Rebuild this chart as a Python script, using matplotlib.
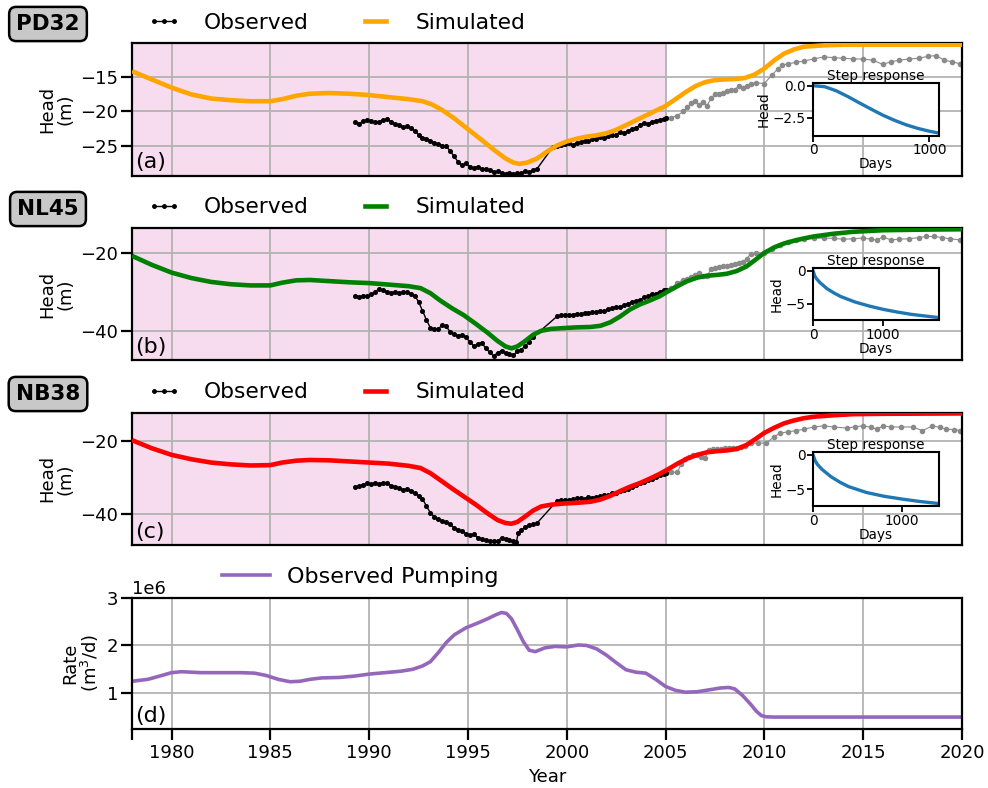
import matplotlib
matplotlib.use("Agg")
import matplotlib.pyplot as plt
from matplotlib.lines import Line2D

# ---------------- data ----------------
wells = ["PD32", "NL45", "NB38"]
panel_labels = ["(a)", "(b)", "(c)", "(d)"]
sim_colors = ["orange", "green", "red"]

# PD32
sim_a_t = [1978.0, 1979.0, 1980.0, 1981.0, 1982.0, 1983.0, 1984.0, 1985.0, 1985.6, 1986.3, 1987.0, 1988.0,
           1989.0, 1990.0, 1991.0, 1992.0, 1992.7, 1993.2, 1993.7, 1994.3, 1995.0, 1995.7, 1996.3, 1996.9,
           1997.3, 1997.6, 1998.0, 1998.5, 1999.0, 1999.5, 2000.0, 2000.5, 2001.0, 2001.5, 2002.0, 2002.5,
           2003.0, 2003.5, 2004.0, 2004.5, 2005.0, 2005.5, 2006.0, 2006.5, 2007.0, 2007.5, 2008.0, 2008.5,
           2009.0, 2009.5, 2010.0, 2010.5, 2011.0, 2011.5, 2012.0, 2013.0, 2014.0, 2016.0, 2020.0]
sim_a_v = [-14.1, -15.3, -16.5, -17.5, -18.1, -18.35, -18.5, -18.5, -18.2, -17.7, -17.4, -17.3,
           -17.4, -17.6, -17.9, -18.2, -18.5, -19.0, -19.8, -21.0, -22.6, -24.2, -25.6, -26.9,
           -27.5, -27.7, -27.5, -26.9, -25.9, -25.0, -24.4, -24.0, -23.7, -23.5, -23.2, -22.7,
           -22.0, -21.3, -20.6, -19.9, -19.2, -18.2, -17.2, -16.3, -15.7, -15.4, -15.3, -15.25,
           -15.1, -14.6, -13.7, -12.5, -11.5, -10.9, -10.5, -10.3, -10.2, -10.2, -10.2]
obs_a_t = [1989.3, 1989.5, 1989.7, 1989.9, 1990.1, 1990.3, 1990.5, 1990.7, 1990.9, 1991.1, 1991.3, 1991.5,
           1991.7, 1991.9, 1992.1, 1992.3, 1992.5, 1992.7, 1992.9, 1993.1, 1993.3, 1993.5, 1993.7, 1993.9,
           1994.1, 1994.3, 1994.5, 1994.7, 1994.9, 1995.1, 1995.3, 1995.5, 1995.7, 1995.9, 1996.1, 1996.3,
           1996.5, 1996.7, 1996.9, 1997.1, 1997.3, 1997.5, 1997.7, 1997.9, 1998.1, 1998.3, 1998.5, 1999.3,
           1999.5, 1999.7, 1999.9, 2000.1, 2000.3, 2000.5, 2000.7, 2000.9, 2001.1, 2001.3, 2001.5, 2001.7,
           2001.9, 2002.1, 2002.3, 2002.5, 2002.7, 2002.9, 2003.1, 2003.3, 2003.5, 2003.7, 2003.9, 2004.1,
           2004.3, 2004.5, 2004.7, 2004.9, 2005.0]
obs_a_v = [-21.6, -21.8, -21.4, -21.2, -21.4, -21.6, -21.5, -21.3, -21.1, -21.5, -21.8, -22.0,
           -22.3, -22.2, -22.5, -22.8, -23.4, -23.9, -24.0, -24.3, -24.6, -24.8, -25.0, -25.1,
           -25.8, -26.6, -27.4, -27.9, -27.6, -28.1, -28.3, -28.1, -28.5, -28.4, -28.6, -28.9,
           -28.8, -29.1, -29.2, -29.0, -29.2, -29.1, -29.0, -28.8, -28.9, -28.6, -28.4, -25.2,
           -25.0, -24.9, -24.8, -24.7, -24.9, -24.6, -24.5, -24.3, -24.4, -24.1, -24.0, -23.8,
           -23.9, -23.6, -23.5, -23.4, -23.0, -23.2, -22.8, -22.6, -22.4, -22.0, -21.7, -21.8,
           -21.5, -21.4, -21.2, -21.1, -21.0]
late_a_t = [2005.0, 2005.3, 2005.6, 2005.9, 2006.1, 2006.3, 2006.5, 2006.7, 2006.9, 2007.1, 2007.3, 2007.5,
            2007.7, 2007.9, 2008.1, 2008.3, 2008.5, 2008.7, 2008.9, 2009.1, 2009.3, 2009.6, 2010.0, 2010.4,
            2010.7, 2010.9, 2011.2, 2011.6, 2012.0, 2012.5, 2013.0, 2013.5, 2014.0, 2014.5, 2015.0, 2015.5,
            2016.0, 2016.4, 2016.8, 2017.3, 2017.8, 2018.3, 2018.7, 2019.1, 2019.5, 2019.9]
late_a_v = [-21.0, -20.9, -20.6, -20.0, -19.4, -18.8, -18.5, -19.0, -18.6, -19.2, -18.0, -17.5,
            -17.4, -17.3, -17.0, -16.9, -16.8, -16.3, -16.6, -16.2, -15.9, -15.8, -15.9, -14.6,
            -13.7, -13.2, -13.0, -12.8, -12.6, -12.3, -12.0, -12.1, -12.2, -12.3, -12.3, -12.5,
            -13.1, -12.7, -12.5, -12.3, -12.2, -11.9, -11.8, -12.5, -12.7, -13.0]
step_a_t = [0, 100, 200, 300, 400, 500, 600, 700, 800, 900, 1000, 1083]
step_a_v = [0.0, -0.08, -0.4, -0.85, -1.35, -1.83, -2.3, -2.7, -3.05, -3.33, -3.55, -3.7]

# NL45
sim_b_t = [1978.0, 1979.0, 1980.0, 1981.0, 1982.0, 1983.0, 1984.0, 1985.0, 1985.6, 1986.3, 1987.0, 1988.0,
           1989.0, 1990.0, 1991.0, 1992.0, 1992.6, 1993.1, 1993.6, 1994.2, 1994.8, 1995.4, 1996.0, 1996.5,
           1996.9, 1997.2, 1997.5, 1997.9, 1998.3, 1998.7, 1999.2, 1999.8, 2000.5, 2001.2, 2001.7, 2002.2,
           2002.7, 2003.2, 2003.7, 2004.2, 2004.7, 2005.1, 2005.6, 2006.1, 2006.6, 2007.1, 2007.6, 2008.1,
           2008.6, 2009.1, 2009.6, 2010.0, 2010.5, 2011.0, 2011.5, 2012.0, 2012.5, 2013.5, 2014.5, 2016.0,
           2018.0, 2020.0]
sim_b_v = [-20.7, -23.0, -25.0, -26.4, -27.4, -28.0, -28.3, -28.3, -27.6, -27.0, -26.9, -27.2,
           -27.5, -27.7, -28.1, -28.5, -29.0, -30.3, -32.2, -34.2, -36.0, -38.2, -40.5, -42.6,
           -44.0, -44.5, -44.0, -42.6, -41.0, -40.0, -39.5, -39.3, -39.1, -39.0, -38.7, -37.8,
           -36.3, -34.5, -33.2, -32.2, -31.1, -29.9, -28.5, -27.2, -26.3, -25.8, -25.6, -25.3,
           -24.6, -23.4, -21.5, -19.9, -18.5, -17.5, -16.8, -16.2, -15.7, -15.0, -14.5, -14.1,
           -13.95, -13.85]
obs_b_t = [1989.3, 1989.5, 1989.7, 1989.9, 1990.1, 1990.3, 1990.5, 1990.7, 1990.9, 1991.1, 1991.3, 1991.5,
           1991.7, 1991.9, 1992.1, 1992.3, 1992.5, 1992.7, 1992.9, 1993.1, 1993.3, 1993.5, 1993.7, 1993.9,
           1994.1, 1994.3, 1994.5, 1994.7, 1994.9, 1995.1, 1995.3, 1995.5, 1995.7, 1995.9, 1996.1, 1996.3,
           1996.5, 1996.7, 1996.9, 1997.1, 1997.3, 1997.5, 1997.7, 1997.9, 1998.1, 1998.3, 1999.5, 1999.7,
           1999.9, 2000.1, 2000.3, 2000.5, 2000.7, 2000.9, 2001.1, 2001.3, 2001.5, 2001.7, 2001.9, 2002.1,
           2002.3, 2002.5, 2002.7, 2002.9, 2003.1, 2003.3, 2003.5, 2003.7, 2003.9, 2004.1, 2004.3, 2004.5,
           2004.7, 2004.9, 2005.0]
obs_b_v = [-31.0, -31.2, -31.0, -31.1, -30.6, -30.0, -29.2, -29.6, -29.9, -30.2, -30.0, -30.3,
           -30.1, -30.0, -30.4, -30.9, -32.5, -34.8, -37.2, -39.2, -39.6, -39.4, -38.6, -38.8,
           -40.3, -40.9, -41.2, -41.0, -41.7, -42.8, -44.0, -43.4, -43.0, -44.5, -45.5, -46.5,
           -45.6, -45.1, -45.6, -46.0, -46.3, -45.2, -44.8, -43.9, -42.8, -41.6, -36.3, -36.0,
           -35.9, -35.8, -35.9, -35.6, -35.7, -35.4, -35.5, -35.2, -35.1, -34.8, -34.9, -34.5,
           -34.2, -33.8, -33.9, -33.4, -33.0, -32.6, -32.3, -32.0, -31.4, -31.1, -30.6, -30.4,
           -29.9, -29.6, -29.4]
late_b_t = [2005.0, 2005.3, 2005.6, 2005.9, 2006.1, 2006.3, 2006.5, 2006.7, 2006.9, 2007.1, 2007.3, 2007.5,
            2007.7, 2007.9, 2008.1, 2008.3, 2008.5, 2008.7, 2008.9, 2009.1, 2009.3, 2009.6, 2010.0, 2010.4,
            2010.8, 2011.2, 2011.6, 2012.0, 2012.5, 2013.0, 2013.5, 2014.0, 2014.5, 2015.0, 2015.4, 2015.7,
            2016.0, 2016.4, 2016.8, 2017.3, 2017.8, 2018.2, 2018.6, 2019.0, 2019.4, 2019.9]
late_b_v = [-29.4, -28.9, -27.6, -26.9, -26.6, -26.2, -25.6, -25.1, -25.8, -26.0, -24.0, -23.8,
            -23.6, -23.4, -23.2, -23.0, -22.9, -22.6, -22.3, -21.5, -20.2, -20.0, -20.0, -18.9,
            -17.8, -17.1, -16.6, -16.3, -16.2, -16.1, -16.2, -16.4, -16.3, -16.1, -16.4, -16.6,
            -15.8, -16.6, -16.4, -16.3, -16.0, -15.7, -15.7, -16.0, -16.3, -16.6]
step_b_t = [0, 25, 50, 100, 200, 300, 400, 600, 800, 1000, 1200, 1400, 1600, 1800]
step_b_v = [0.0, -0.8, -1.2, -1.8, -2.7, -3.35, -3.9, -4.7, -5.3, -5.8, -6.2, -6.55, -6.8, -7.05]

# NB38
sim_c_t = [1978.0, 1979.0, 1980.0, 1981.0, 1982.0, 1983.0, 1984.0, 1985.0, 1985.6, 1986.3, 1987.0, 1988.0,
           1989.0, 1990.0, 1991.0, 1992.0, 1992.6, 1993.1, 1993.6, 1994.2, 1994.8, 1995.4, 1996.0, 1996.5,
           1996.9, 1997.2, 1997.5, 1997.9, 1998.3, 1998.7, 1999.2, 1999.8, 2000.5, 2001.2, 2001.7, 2002.2,
           2002.7, 2003.2, 2003.7, 2004.2, 2004.7, 2005.1, 2005.6, 2006.1, 2006.6, 2007.1, 2007.6, 2008.1,
           2008.6, 2009.1, 2009.6, 2010.0, 2010.5, 2011.0, 2011.5, 2012.0, 2012.5, 2013.5, 2014.5, 2016.0,
           2018.0, 2020.0]
sim_c_v = [-19.8, -22.0, -23.8, -25.0, -25.9, -26.4, -26.7, -26.6, -25.9, -25.4, -25.2, -25.3,
           -25.6, -25.9, -26.2, -26.8, -27.4, -28.8, -30.7, -33.0, -35.2, -37.4, -39.8, -41.6,
           -42.4, -42.6, -42.1, -40.6, -39.0, -37.9, -37.4, -37.1, -36.9, -36.6, -36.0, -35.0,
           -33.7, -32.5, -31.5, -30.3, -29.0, -27.8, -26.2, -24.8, -23.8, -23.1, -22.8, -22.6,
           -22.2, -21.1, -19.3, -17.8, -16.4, -15.2, -14.4, -13.8, -13.4, -13.0, -12.7, -12.6,
           -12.55, -12.5]
obs_c_t = [1989.3, 1989.5, 1989.7, 1989.9, 1990.1, 1990.3, 1990.5, 1990.7, 1990.9, 1991.1, 1991.3, 1991.5,
           1991.7, 1991.9, 1992.1, 1992.3, 1992.5, 1992.7, 1992.9, 1993.1, 1993.3, 1993.5, 1993.7, 1993.9,
           1994.1, 1994.3, 1994.5, 1994.7, 1994.9, 1995.1, 1995.3, 1995.5, 1995.7, 1995.9, 1996.1, 1996.3,
           1996.5, 1996.7, 1996.9, 1997.1, 1997.3, 1997.45, 1997.55, 1997.7, 1997.9, 1998.1, 1998.3, 1998.5,
           1999.5, 1999.7, 1999.9, 2000.1, 2000.3, 2000.5, 2000.7, 2000.9, 2001.1, 2001.3, 2001.5, 2001.7,
           2001.9, 2002.1, 2002.3, 2002.5, 2002.7, 2002.9, 2003.1, 2003.3, 2003.5, 2003.7, 2003.9, 2004.1,
           2004.3, 2004.5, 2004.7, 2004.9, 2005.0]
obs_c_v = [-32.7, -32.4, -31.9, -31.6, -31.8, -31.5, -31.7, -31.4, -31.6, -32.2, -32.5, -32.8,
           -33.3, -33.1, -33.6, -34.2, -34.9, -35.8, -37.8, -39.6, -40.8, -41.3, -41.8, -42.2,
           -42.8, -43.7, -44.2, -44.6, -45.3, -45.8, -45.5, -46.4, -46.8, -47.0, -47.4, -47.2,
           -47.3, -46.4, -46.8, -47.0, -47.4, -47.6, -45.0, -44.2, -43.6, -42.9, -42.7, -42.4,
           -36.4, -36.1, -36.2, -36.0, -35.9, -35.7, -35.6, -35.8, -35.4, -35.5, -35.3, -35.0,
           -34.8, -34.7, -34.3, -34.1, -33.8, -33.5, -33.2, -32.6, -32.1, -31.6, -31.3, -30.8,
           -30.5, -29.9, -29.3, -28.9, -28.7]
late_c_t = [2005.0, 2005.3, 2005.6, 2005.8, 2006.0, 2006.2, 2006.4, 2006.6, 2006.8, 2007.0, 2007.2, 2007.4,
            2007.6, 2007.8, 2008.0, 2008.2, 2008.4, 2008.6, 2008.8, 2009.0, 2009.3, 2009.7, 2010.1, 2010.5,
            2010.8, 2011.2, 2011.6, 2012.0, 2012.5, 2013.0, 2013.5, 2014.2, 2014.6, 2015.0, 2015.4, 2015.7,
            2016.0, 2016.4, 2016.9, 2017.5, 2018.0, 2018.5, 2018.9, 2019.2, 2019.6, 2019.9]
late_c_v = [-28.7, -28.6, -28.5, -26.2, -25.0, -24.4, -23.8, -23.9, -24.3, -24.6, -22.6, -22.3,
            -22.2, -22.1, -22.0, -22.0, -21.9, -21.8, -21.6, -21.3, -20.6, -20.6, -20.6, -18.8,
            -17.9, -17.5, -17.2, -16.8, -16.2, -15.9, -16.2, -16.5, -16.1, -15.9, -16.3, -16.8,
            -15.9, -16.2, -16.2, -16.2, -17.2, -15.9, -16.3, -16.8, -16.9, -17.2]
step_c_t = [0, 25, 50, 100, 200, 300, 400, 600, 800, 1000, 1200, 1416]
step_c_v = [0.0, -0.9, -1.4, -2.1, -3.15, -3.95, -4.6, -5.45, -6.0, -6.4, -6.75, -7.05]

# Pumping (m3/d)
pump_t = [1978.0, 1978.8, 1979.5, 1980.0, 1980.5, 1981.5, 1982.5, 1983.5, 1984.2, 1984.8, 1985.4, 1986.0,
          1986.5, 1987.0, 1987.6, 1988.5, 1989.3, 1990.0, 1990.8, 1991.6, 1992.2, 1992.7, 1993.1, 1993.5,
          1993.9, 1994.3, 1994.9, 1995.5, 1996.0, 1996.4, 1996.7, 1996.95, 1997.2, 1997.5, 1997.8, 1998.1,
          1998.4, 1998.9, 1999.4, 2000.0, 2000.6, 2001.0, 2001.5, 2002.0, 2002.5, 2003.0, 2003.5, 2004.0,
          2004.5, 2005.0, 2005.5, 2006.0, 2006.6, 2007.2, 2007.8, 2008.2, 2008.5, 2008.9, 2009.3, 2009.6,
          2009.85, 2010.1, 2010.5, 2020.0]
pump_v = [1.25e6, 1.29e6, 1.37e6, 1.43e6, 1.45e6, 1.43e6, 1.43e6, 1.43e6, 1.42e6, 1.37e6, 1.29e6, 1.24e6,
          1.25e6, 1.29e6, 1.32e6, 1.33e6, 1.36e6, 1.40e6, 1.43e6, 1.46e6, 1.50e6, 1.57e6, 1.66e6, 1.85e6,
          2.06e6, 2.22e6, 2.37e6, 2.47e6, 2.56e6, 2.64e6, 2.69e6, 2.67e6, 2.56e6, 2.33e6, 2.08e6, 1.90e6,
          1.87e6, 1.95e6, 1.98e6, 1.97e6, 2.01e6, 2.00e6, 1.93e6, 1.80e6, 1.64e6, 1.49e6, 1.44e6, 1.42e6,
          1.29e6, 1.14e6, 1.06e6, 1.02e6, 1.03e6, 1.07e6, 1.11e6, 1.12e6, 1.09e6, 0.95e6, 0.77e6, 0.62e6,
          0.53e6, 0.505e6, 0.50e6, 0.50e6]

head_yticks = [[-15, -20, -25], [-20, -40], [-20, -40]]
head_ylims = [(-29.4, -10.0), (-47.5, -13.6), (-48.4, -12.3)]
step_yticks = [[0.0, -2.5], [0, -5], [0, -5]]
year_ticks = [1980, 1985, 1990, 1995, 2000, 2005, 2010, 2015, 2020]

# ---------------- figure ----------------
W, H = 988, 788
fig = plt.figure(figsize=(W / 100, H / 100), dpi=100)


def fx(px):
    return px / W


def fy(py):
    return 1 - py / H


L, R = 132, 962
main_tb = [(43.3, 175.5), (228.3, 360), (412.7, 545), (597.7, 729)]
inset_tb = [(83.3, 135.5), (268.3, 320), (452.3, 506)]
well_y = [24, 209, 394]
leg_y = [23, 207.3, 392.3]

grid_kw = dict(color="#b3b3b3", lw=1.3)
pink = "#f6dcee"

sims = [(sim_a_t, sim_a_v), (sim_b_t, sim_b_v), (sim_c_t, sim_c_v)]
obss = [(obs_a_t, obs_a_v), (obs_b_t, obs_b_v), (obs_c_t, obs_c_v)]
lates = [(late_a_t, late_a_v), (late_b_t, late_b_v), (late_c_t, late_c_v)]
steps = [(step_a_t, step_a_v), (step_b_t, step_b_v), (step_c_t, step_c_v)]


def style_axes(ax):
    for s in ax.spines.values():
        s.set_linewidth(1.6)
    ax.set_axisbelow(True)
    ax.grid(True, **grid_kw)
    ax.tick_params(axis="y", labelsize=13, length=8, width=1.6, pad=2)
    ax.tick_params(axis="x", labelsize=13, length=8, width=1.6, pad=3)


axes = []
for i in range(4):
    top, bot = main_tb[i]
    ax = fig.add_axes([fx(L), fy(bot), fx(R - L), (bot - top) / H])
    axes.append(ax)

for i in range(3):
    ax = axes[i]
    style_axes(ax)
    ax.axvspan(1978, 2005, color=pink, zorder=0, lw=0)
    ax.plot(lates[i][0], lates[i][1], color="#8a8a8a", lw=0.8, marker=".", ms=6, zorder=2)
    ax.plot(obss[i][0], obss[i][1], color="k", lw=1.0, marker="o", ms=2.6, zorder=3)
    ax.plot(sims[i][0], sims[i][1], color=sim_colors[i], lw=3.3, zorder=4, solid_capstyle="butt")
    ax.set_xlim(1978, 2020)
    ax.set_ylim(*head_ylims[i])
    ax.set_yticks(head_yticks[i])
    ax.set_xticks(year_ticks)
    ax.tick_params(axis="x", bottom=False, labelbottom=False)
    ax.set_ylabel("Head\n(m)", fontsize=13, linespacing=1.0)
    ax.text(0.004, 0.025, panel_labels[i], transform=ax.transAxes, fontsize=16,
            ha="left", va="bottom", zorder=6)

    handles = [Line2D([], [], color="k", lw=1.0, marker=".", ms=5),
               Line2D([], [], color=sim_colors[i], lw=3.3)]
    ax.legend(handles, ["Observed", "Simulated"], loc="center left",
              bbox_to_anchor=(fx(147), fy(leg_y[i])), bbox_transform=fig.transFigure,
              ncol=2, frameon=False, fontsize=15.7, handlelength=1.55, handletextpad=1.05,
              columnspacing=2.3, borderpad=0, borderaxespad=0, numpoints=3)

    fig.text(fx(48), fy(well_y[i]), wells[i], fontsize=15.5, fontweight="bold",
             ha="center", va="center",
             bbox=dict(boxstyle="round,pad=0.33", facecolor="#c8c8c8", edgecolor="black", lw=1.8))

    # inset step response
    itop, ibot = inset_tb[i]
    ins = fig.add_axes([fx(813), fy(ibot), fx(939 - 813), (ibot - itop) / H])
    ins.set_facecolor("white")
    ins.set_zorder(10)
    ins.plot(steps[i][0], steps[i][1], color="tab:blue", lw=2.4)
    ins.set_xlim(0, steps[i][0][-1])
    ins.set_xticks([0, 1000])
    ins.set_yticks(step_yticks[i])
    for s in ins.spines.values():
        s.set_linewidth(1.5)
    ins.tick_params(labelsize=9.8, length=4, width=1.3, pad=1.5)
    ins.set_title("Step response", fontsize=9.8, pad=1.5)
    ins.set_xlabel("Days", fontsize=9.8, labelpad=0)
    ins.set_ylabel("Head", fontsize=9.8, labelpad=1)

# pumping panel
axd = axes[3]
style_axes(axd)
axd.plot(pump_t, pump_v, color="#9467bd", lw=2.6, label="Observed Pumping")
axd.set_xlim(1978, 2020)
axd.set_ylim(0.25e6, 3.0e6)
axd.set_yticks([1e6, 2e6, 3e6])
axd.set_xticks(year_ticks)
axd.set_xticks([1978], minor=True)
axd.tick_params(axis="x", which="minor", length=8, width=1.6)
axd.yaxis.get_offset_text().set_fontsize(13)
axd.set_ylabel("Rate\n(m$^3$/d)", fontsize=13, linespacing=1.0)
axd.set_xlabel("Year", fontsize=13)
axd.text(0.004, 0.025, panel_labels[3], transform=axd.transAxes, fontsize=16,
         ha="left", va="bottom")
axd.legend(loc="center left", bbox_to_anchor=(fx(222), fy(576.7)), bbox_transform=fig.transFigure,
           frameon=False, fontsize=16, handlelength=2.15, handletextpad=0.77,
           borderpad=0, borderaxespad=0)

fig.savefig("out.png", dpi=100)
